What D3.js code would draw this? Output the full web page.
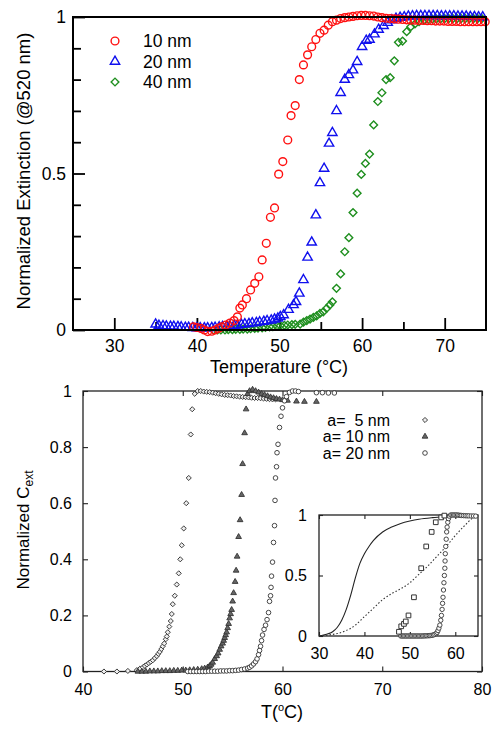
<!DOCTYPE html>
<html><head><meta charset="utf-8">
<script src="https://cdn.jsdelivr.net/npm/d3@7"></script>
<style>
body{margin:0;background:#fff}
svg{display:block}
text{font-family:"Liberation Sans",Arial,Helvetica,sans-serif;fill:#000}
</style></head>
<body><svg id="c" width="501" height="736"></svg>
<script>
// ---------- DATA: top panel (measured extinction at 520 nm) ----------
const topXTicks = [30,40,50,60,70];
const topXMinor = [35,45,55,65];
const topYTicks = [0,0.5,1];
const topYMinor = [0.1,0.2,0.3,0.4,0.6,0.7,0.8,0.9];
const topLegend = ["10 nm","20 nm","40 nm"];
const red10 = [[39.6,0.01],[40.0,0.008],[40.5,0.005],[40.9,0.0],[41.3,-0.005],[41.8,-0.004],[42.2,0.0],[42.6,0.005],[43.0,0.01],[43.5,0.016],[44.0,0.022],[44.5,0.03],[44.9,0.042],[45.2,0.07],[45.5,0.08],[46.0,0.1],[46.5,0.128],[47.0,0.149],[47.5,0.17],[47.9,0.224],[48.4,0.277],[48.9,0.36],[49.4,0.39],[49.9,0.498],[50.4,0.538],[51.0,0.607],[51.4,0.685],[51.9,0.717],[52.4,0.8],[52.9,0.847],[53.4,0.879],[53.9,0.905],[54.4,0.928],[54.9,0.948],[55.4,0.958],[55.9,0.974],[56.4,0.985],[56.9,0.99],[57.4,0.995],[57.9,0.998],[58.4,1.0],[58.9,1.002],[59.4,1.004],[59.9,1.005],[60.4,1.005],[60.9,1.004],[61.4,1.003],[61.9,1.0],[62.4,0.998],[62.9,0.996],[63.4,0.995],[63.9,0.994],[64.4,0.993],[64.9,0.992],[65.4,0.991],[65.9,0.99],[66.4,0.99],[66.9,0.989],[67.4,0.989],[67.9,0.988],[68.4,0.988],[68.9,0.987],[69.4,0.987],[69.9,0.987],[70.4,0.986],[70.9,0.986],[71.4,0.986],[71.9,0.985],[72.4,0.985],[72.9,0.985],[73.4,0.985],[73.9,0.985],[74.4,0.985],[74.9,0.985]];
const blue20 = [[35.0,0.018],[35.4,0.014],[35.9,0.013],[36.3,0.012],[36.8,0.011],[37.2,0.011],[37.7,0.01],[38.1,0.009],[38.6,0.008],[39.0,0.008],[39.5,0.007],[40.0,0.006],[40.4,0.006],[40.9,0.006],[41.3,0.006],[41.8,0.007],[42.2,0.008],[42.7,0.009],[43.1,0.01],[43.6,0.011],[44.0,0.012],[44.5,0.014],[44.9,0.015],[45.4,0.017],[45.8,0.019],[46.3,0.02],[46.7,0.022],[47.2,0.023],[47.6,0.025],[48.1,0.027],[48.5,0.029],[49.0,0.031],[49.4,0.034],[49.8,0.037],[50.1,0.042],[50.5,0.048],[51.1,0.065],[51.7,0.08],[52.0,0.09],[52.4,0.117],[52.9,0.16],[53.4,0.232],[53.9,0.28],[54.4,0.367],[54.9,0.47],[55.4,0.516],[56.0,0.596],[56.4,0.63],[56.9,0.7],[57.4,0.758],[57.9,0.8],[58.4,0.815],[58.9,0.83],[59.4,0.857],[60.0,0.905],[60.5,0.925],[60.9,0.928],[61.5,0.945],[62.0,0.96],[62.6,0.972],[63.1,0.982],[63.6,0.99],[64.1,0.995],[64.6,0.998],[65.1,1.0],[65.6,1.002],[66.1,1.003],[66.6,1.004],[67.1,1.004],[67.6,1.004],[68.1,1.004],[68.6,1.004],[69.1,1.004],[69.6,1.003],[70.1,1.003],[70.6,1.003],[71.1,1.003],[71.6,1.002],[72.1,1.002],[72.6,1.002],[73.1,1.001],[73.6,1.001],[74.1,1.0],[74.6,1.0]];
const green40 = [[42.0,0.0],[42.5,0.0],[42.9,0.0],[43.4,0.0],[43.8,0.001],[44.3,0.001],[44.7,0.002],[45.2,0.002],[45.6,0.003],[46.1,0.003],[46.5,0.004],[47.0,0.005],[47.4,0.006],[47.9,0.007],[48.3,0.008],[48.8,0.01],[49.2,0.011],[49.7,0.013],[50.1,0.014],[50.6,0.015],[51.0,0.016],[51.5,0.017],[51.9,0.018],[52.5,0.019],[52.9,0.025],[53.3,0.03],[53.7,0.035],[54.1,0.04],[54.5,0.045],[54.9,0.053],[55.3,0.058],[55.7,0.069],[56.1,0.08],[56.4,0.09],[56.9,0.133],[57.4,0.179],[57.9,0.25],[58.4,0.295],[58.9,0.375],[59.4,0.437],[59.9,0.497],[60.4,0.532],[60.9,0.562],[61.4,0.655],[61.9,0.73],[62.4,0.758],[62.9,0.8],[63.4,0.806],[63.9,0.86],[64.4,0.919],[64.9,0.923],[65.4,0.953],[65.9,0.969],[66.4,0.978],[66.9,0.985],[67.5,0.99],[68.0,0.992],[68.5,0.993],[69.0,0.994],[69.5,0.994],[70.0,0.995],[70.5,0.995],[71.0,0.995],[71.5,0.995],[72.0,0.995],[72.5,0.995],[73.0,0.995],[73.5,0.995],[74.0,0.995],[74.5,0.995]];

// ---------- DATA: bottom panel (calculated C_ext) ----------
const botXTicks = [40,50,60,70,80];
const botYTicks = [0,0.2,0.4,0.6,0.8,1];
const botLegend = ["a=\u00a0\u00a05 nm","a= 10 nm","a= 20 nm"];
const a5 = [[42.1,0],[43.4,0],[44.5,0.002],[45.4,0.005],[45.7,0.01],[46.0,0.015],[46.2,0.02],[46.4,0.025],[46.6,0.03],[46.8,0.035],[47.0,0.04],[47.2,0.048],[47.4,0.055],[47.55,0.063],[47.7,0.07],[47.85,0.08],[48.0,0.09],[48.15,0.1],[48.3,0.115],[48.4,0.125],[48.5,0.14],[48.65,0.16],[48.8,0.18],[48.9,0.205],[49.0,0.24],[49.2,0.27],[49.4,0.31],[49.6,0.35],[49.75,0.4],[49.9,0.45],[50.1,0.51],[50.35,0.6],[50.6,0.69],[50.8,0.845],[50.95,0.935],[51.2,0.99],[51.5,1.0],[51.8,1.0],[52.1,0.998],[52.4,0.997],[52.7,0.996],[53.0,0.994],[53.3,0.992],[53.6,0.99],[53.9,0.988],[54.2,0.986],[54.5,0.985],[54.8,0.984],[55.1,0.982],[55.4,0.981],[55.7,0.98],[56.0,0.979],[56.3,0.978],[56.6,0.977],[56.9,0.976],[57.2,0.975],[57.5,0.975],[57.8,0.974],[58.1,0.973],[58.4,0.972],[58.7,0.971],[59.0,0.97],[59.3,0.97]];
const a10 = [[45.5,0],[45.9,0],[46.3,0],[46.7,0.001],[47.1,0.001],[47.5,0.001],[47.9,0.002],[48.3,0.002],[48.7,0.002],[49.1,0.003],[49.5,0.003],[49.9,0.004],[50.3,0.004],[50.7,0.005],[51.1,0.006],[51.5,0.007],[51.9,0.009],[52.2,0.011],[52.5,0.015],[52.7,0.02],[52.85,0.025],[53.0,0.032],[53.2,0.045],[53.4,0.055],[53.55,0.065],[53.7,0.078],[53.85,0.09],[54.0,0.1],[54.1,0.11],[54.2,0.12],[54.3,0.13],[54.4,0.14],[54.5,0.155],[54.6,0.17],[54.7,0.19],[54.8,0.205],[54.9,0.22],[55.0,0.25],[55.1,0.28],[55.25,0.32],[55.35,0.36],[55.45,0.41],[55.6,0.48],[55.75,0.54],[55.9,0.63],[56.0,0.74],[56.2,0.85],[56.35,0.935],[56.5,0.99],[56.7,1.0],[57.0,1.005],[57.3,1.0],[57.6,0.995],[57.9,0.99],[58.2,0.986],[58.5,0.982],[58.8,0.978],[59.1,0.975],[59.4,0.972],[59.7,0.97],[60.0,0.968],[60.5,0.966],[61.4,0.963],[62.2,0.962],[63.4,0.962]];
const a20 = [[50.5,0],[50.8,0],[51.1,0],[51.4,0],[51.7,0],[52.0,0],[52.3,0],[52.6,0.001],[52.9,0.001],[53.2,0.001],[53.5,0.001],[53.8,0.002],[54.1,0.002],[54.4,0.002],[54.7,0.003],[55.0,0.003],[55.3,0.004],[55.6,0.005],[55.9,0.007],[56.2,0.009],[56.5,0.012],[56.7,0.015],[56.9,0.02],[57.1,0.027],[57.3,0.035],[57.45,0.045],[57.6,0.06],[57.7,0.075],[57.8,0.09],[57.9,0.11],[58.0,0.13],[58.15,0.15],[58.3,0.165],[58.45,0.185],[58.6,0.21],[58.7,0.25],[58.8,0.27],[58.85,0.3],[58.9,0.34],[59.0,0.39],[59.1,0.46],[59.2,0.52],[59.25,0.61],[59.3,0.69],[59.4,0.73],[59.45,0.78],[59.55,0.81],[59.7,0.87],[59.85,0.91],[60.0,0.94],[60.2,0.965],[60.4,0.98],[60.7,0.995],[61.0,1.0],[61.3,1.0],[61.6,0.998],[63.4,0.994],[64.0,0.994],[64.6,0.993],[65.2,0.993]];

// ---------- DATA: inset ----------
const insXTicks = [30,40,50,60];
const insYTicks = [0,0.5,1];
const insSolid = [[30,0],[31,0.008],[32,0.018],[33,0.035],[34,0.07],[35,0.13],[36,0.22],[37,0.34],[38,0.48],[39,0.6],[40,0.68],[41,0.74],[42,0.79],[44,0.86],[46,0.9],[48,0.93],[50,0.95],[52,0.965],[55,0.978],[58,0.986],[61,0.992],[65,0.996]];
const insDotted = [[30,0],[32,0.008],[34,0.02],[36,0.045],[38,0.09],[40,0.16],[42,0.23],[44,0.3],[46,0.35],[48,0.39],[50,0.44],[52,0.51],[54,0.58],[56,0.66],[58,0.74],[60,0.83],[62,0.91],[64,0.98],[65,1.0]];
const insSquares = [[47.6,0.035],[48.1,0.08],[48.7,0.1],[49.1,0.12],[49.7,0.17],[50.9,0.32],[52.5,0.56],[53.6,0.74],[54.8,0.86],[55.7,0.94],[56.9,0.98],[57.6,0.995]];
const insCircles = [[48.0,0],[48.3,0],[48.6,0],[48.9,0],[49.2,0],[49.5,0],[49.8,0],[50.1,0],[50.4,0],[50.7,0],[51.0,0],[51.3,0],[51.6,0],[51.9,0],[52.2,0],[52.5,0],[52.8,0],[53.1,0.001],[53.4,0.001],[53.7,0.002],[54.0,0.002],[54.3,0.003],[54.6,0.004],[54.9,0.006],[55.2,0.009],[55.5,0.013],[55.8,0.02],[56.0,0.03],[56.2,0.045],[56.4,0.065],[56.6,0.09],[56.8,0.13],[56.95,0.17],[57.1,0.22],[57.2,0.27],[57.3,0.32],[57.4,0.38],[57.5,0.44],[57.6,0.5],[57.7,0.56],[57.75,0.62],[57.8,0.68],[57.9,0.74],[58.0,0.8],[58.1,0.86],[58.2,0.9],[58.35,0.94],[58.5,0.97],[58.7,0.99],[59.0,1.0],[59.3,1.0],[59.6,1.0],[59.9,1.0],[60.2,1.0],[60.5,1.0],[60.8,0.998],[61.1,0.997],[61.4,0.996],[61.8,0.995],[62.2,0.994],[62.6,0.993],[63.0,0.993],[63.5,0.992],[64.0,0.992],[64.5,0.991]];

// ---------- DRAW ----------
const svg = d3.select("#c");
const sym = (type, size) => d3.symbol().type(type).size(size)();
function styleAxis(g, w, col){
  g.select(".domain").remove();
  g.selectAll(".tick line").attr("stroke", col).attr("stroke-width", w);
}

// ===== TOP PANEL =====
const x1 = d3.scaleLinear().domain([25,75]).range([73,486]);
const y1 = d3.scaleLinear().domain([0,1]).range([330,17]);
const topG = svg.append("g");

const fmtTop = d => d === 0.5 ? "0.5" : String(d);
const gx1 = topG.append("g").attr("transform","translate(0,330)")
  .call(d3.axisBottom(x1).tickValues(topXTicks).tickSizeInner(-12).tickSizeOuter(0).tickPadding(10));
gx1.selectAll("text").attr("font-size",17.5).attr("fill","#000");
styleAxis(gx1, 1.8, "#000");
const gx1m = topG.append("g").attr("transform","translate(0,330)")
  .call(d3.axisBottom(x1).tickValues(topXMinor).tickSizeInner(-8).tickSizeOuter(0).tickFormat(""));
styleAxis(gx1m, 1.8, "#000");
const gy1 = topG.append("g").attr("transform","translate(73,0)")
  .call(d3.axisLeft(y1).tickValues(topYTicks).tickSizeInner(-12).tickSizeOuter(0).tickPadding(7).tickFormat(fmtTop));
gy1.selectAll("text").attr("font-size",17.5).attr("fill","#000");
styleAxis(gy1, 1.8, "#000");
const gy1m = topG.append("g").attr("transform","translate(73,0)")
  .call(d3.axisLeft(y1).tickValues(topYMinor).tickSizeInner(-8).tickSizeOuter(0).tickFormat(""));
styleAxis(gy1m, 1.8, "#000");

const topSeries = [
  {data: red10, color: "#ff1010", shape: "circle"},
  {data: blue20, color: "#1010ee", shape: "triangle"},
  {data: green40, color: "#1f8f1f", shape: "diamond"}
];
function drawTopMarker(sel, shape, color){
  if (shape === "circle") {
    sel.append("circle").attr("r",3.9).attr("fill","none").attr("stroke",color).attr("stroke-width",1.4);
  } else if (shape === "triangle") {
    sel.append("path").attr("d", sym(d3.symbolTriangle, 38)).attr("fill","none").attr("stroke",color).attr("stroke-width",1.4);
  } else {
    sel.append("path").attr("d", sym(d3.symbolSquare, 30)).attr("transform","rotate(45)").attr("fill","none").attr("stroke",color).attr("stroke-width",1.4);
  }
}
[topSeries[2], topSeries[1], topSeries[0]].forEach(s => {
  const g = topG.append("g");
  s.data.forEach(d => {
    const m = g.append("g").attr("transform", `translate(${x1(d[0])},${y1(d[1])})`);
    drawTopMarker(m, s.shape, s.color);
  });
});

topG.append("rect").attr("x",x1(25)).attr("y",y1(1)).attr("width",x1(75)-x1(25)).attr("height",y1(0)-y1(1))
  .attr("fill","none").attr("stroke","#000").attr("stroke-width",2);

topSeries.forEach((s,i) => {
  const yy = 41 + i*20.5;
  const m = topG.append("g").attr("transform",`translate(115,${yy})`);
  drawTopMarker(m, s.shape, s.color);
  topG.append("text").attr("x",143).attr("y",yy+6).attr("font-size",17.5).text(topLegend[i]);
});

topG.append("text").attr("transform","translate(30,171) rotate(-90)").attr("text-anchor","middle")
  .attr("font-size",18.5).text("Normalized Extinction (@520 nm)");
topG.append("text").attr("x",279).attr("y",373).attr("text-anchor","middle").attr("font-size",18)
  .text("Temperature (°C)");

// ===== BOTTOM PANEL =====
const x2 = d3.scaleLinear().domain([40,80]).range([83,482]);
const y2 = d3.scaleLinear().domain([0,1]).range([671.5,391]);
const bot = svg.append("g");
const bcol = "#222";
const fmtB = d => String(+d.toFixed(1));

const gx2 = bot.append("g").attr("transform",`translate(0,${y2(0)})`)
  .call(d3.axisBottom(x2).tickValues(botXTicks).tickSizeInner(-5).tickSizeOuter(0).tickPadding(12).tickFormat(fmtB));
gx2.selectAll("text").attr("font-size",16).attr("fill","#111");
styleAxis(gx2, 1.1, bcol);
const gx2t = bot.append("g").attr("transform",`translate(0,${y2(1)})`)
  .call(d3.axisTop(x2).tickValues(botXTicks).tickSizeInner(-5).tickSizeOuter(0).tickFormat(""));
styleAxis(gx2t, 1.1, bcol);
const gy2 = bot.append("g").attr("transform",`translate(${x2(40)},0)`)
  .call(d3.axisLeft(y2).tickValues(botYTicks).tickSizeInner(-5).tickSizeOuter(0).tickPadding(11).tickFormat(fmtB));
gy2.selectAll("text").attr("font-size",16).attr("fill","#111");
styleAxis(gy2, 1.1, bcol);
const gy2r = bot.append("g").attr("transform",`translate(${x2(80)},0)`)
  .call(d3.axisRight(y2).tickValues(botYTicks).tickSizeInner(-5).tickSizeOuter(0).tickFormat(""));
styleAxis(gy2r, 1.1, bcol);

bot.append("rect").attr("x",x2(40)).attr("y",y2(1)).attr("width",x2(80)-x2(40)).attr("height",y2(0)-y2(1))
  .attr("fill","none").attr("stroke",bcol).attr("stroke-width",1.3);

function drawBotMarker(sel, shape){
  if (shape === "diamond") {
    sel.append("path").attr("d", sym(d3.symbolSquare, 13)).attr("transform","rotate(45)")
      .attr("fill","#eee").attr("stroke","#333").attr("stroke-width",0.9);
  } else if (shape === "triangle") {
    sel.append("path").attr("d", sym(d3.symbolTriangle, 14)).attr("fill","#666").attr("stroke","#333").attr("stroke-width",0.9);
  } else {
    sel.append("circle").attr("r",2.3).attr("fill","#fff").attr("stroke","#333").attr("stroke-width",0.9);
  }
}
const botSeries = [{data:a5, shape:"diamond"},{data:a10, shape:"triangle"},{data:a20, shape:"circle"}];
botSeries.forEach(s => {
  const g = bot.append("g");
  s.data.forEach(d => {
    const m = g.append("g").attr("transform",`translate(${x2(d[0])},${y2(d[1])})`);
    drawBotMarker(m, s.shape);
  });
});

botSeries.forEach((s,i) => {
  const yy = 420 + i*16.5;
  bot.append("text").attr("x",390).attr("y",yy+5.5).attr("text-anchor","end").attr("font-size",16)
    .attr("fill","#111").text(botLegend[i]);
  const m = bot.append("g").attr("transform",`translate(425,${yy})`);
  drawBotMarker(m, s.shape);
});

bot.append("text").attr("transform","translate(29,530) rotate(-90)").attr("text-anchor","middle")
  .attr("font-size",17).attr("fill","#111")
  .call(t => { t.append("tspan").text("Normalized C"); t.append("tspan").attr("font-size",12).attr("dy",4).text("ext"); });
bot.append("text").attr("x",282).attr("y",718).attr("text-anchor","middle").attr("font-size",18).attr("fill","#111")
  .call(t => { t.append("tspan").text("T("); t.append("tspan").attr("font-size",11).attr("dy",-7).text("o");
               t.append("tspan").attr("dy",7).text("C)"); });

// ===== INSET =====
const x3 = d3.scaleLinear().domain([30,65]).range([319,478]);
const y3 = d3.scaleLinear().domain([0,1]).range([636,515]);
const ins = svg.append("g");
ins.append("rect").attr("x",x3(30)).attr("y",y3(1)).attr("width",x3(65)-x3(30)).attr("height",y3(0)-y3(1))
  .attr("fill","#fff").attr("stroke",bcol).attr("stroke-width",1.3);
const gx3 = ins.append("g").attr("transform",`translate(0,${y3(0)})`)
  .call(d3.axisBottom(x3).tickValues(insXTicks).tickSizeInner(-4).tickSizeOuter(0).tickPadding(12));
gx3.selectAll("text").attr("font-size",16).attr("fill","#111");
styleAxis(gx3, 1.1, bcol);
const gx3t = ins.append("g").attr("transform",`translate(0,${y3(1)})`)
  .call(d3.axisTop(x3).tickValues(insXTicks).tickSizeInner(-4).tickSizeOuter(0).tickFormat(""));
styleAxis(gx3t, 1.1, bcol);
const gy3 = ins.append("g").attr("transform",`translate(${x3(30)},0)`)
  .call(d3.axisLeft(y3).tickValues(insYTicks).tickSizeInner(-4).tickSizeOuter(0).tickPadding(12).tickFormat(fmtTop));
gy3.selectAll("text").attr("font-size",16).attr("fill","#111");
styleAxis(gy3, 1.1, bcol);
const gy3r = ins.append("g").attr("transform",`translate(${x3(65)},0)`)
  .call(d3.axisRight(y3).tickValues(insYTicks).tickSizeInner(-4).tickSizeOuter(0).tickFormat(""));
styleAxis(gy3r, 1.1, bcol);

const line3 = d3.line().x(d => x3(d[0])).y(d => y3(d[1])).curve(d3.curveMonotoneX);
ins.append("path").attr("d", line3(insSolid)).attr("fill","none").attr("stroke","#222").attr("stroke-width",1.1);
ins.append("path").attr("d", line3(insDotted)).attr("fill","none").attr("stroke","#333").attr("stroke-width",1.1)
  .attr("stroke-dasharray","1.5,2");
insCircles.forEach(d => {
  ins.append("circle").attr("cx",x3(d[0])).attr("cy",y3(d[1])).attr("r",2.2)
    .attr("fill","#fff").attr("stroke","#333").attr("stroke-width",0.9);
});
insSquares.forEach(d => {
  ins.append("path").attr("transform",`translate(${x3(d[0])},${y3(d[1])})`).attr("d", sym(d3.symbolSquare, 22))
    .attr("fill","#fff").attr("stroke","#333").attr("stroke-width",1);
});
</script></body></html>
